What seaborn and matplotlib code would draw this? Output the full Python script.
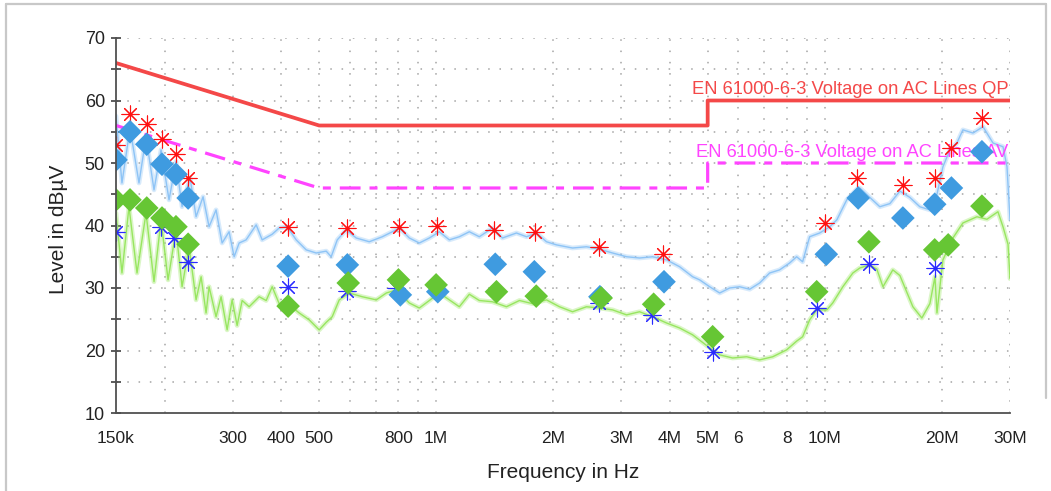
import matplotlib
matplotlib.use("Agg")
import matplotlib.pyplot as plt
import seaborn as sns
from matplotlib.lines import Line2D
from matplotlib.ticker import FixedLocator, FixedFormatter, NullLocator

# ---------------- data (frequency in MHz, level in dBµV) ----------------
qp_trace_freq = [0.150, 0.1554, 0.1630, 0.1719, 0.1792, 0.1879, 0.1959, 0.2054, 0.2141, 0.2219,
                 0.2327, 0.2411, 0.2513, 0.2604, 0.2714, 0.2813, 0.2932, 0.3021, 0.3112, 0.3243,
                 0.3443, 0.3567, 0.3785, 0.3945, 0.4137, 0.4364, 0.4631, 0.4912, 0.5213, 0.5370,
                 0.5566, 0.5870, 0.6229, 0.6729, 0.7270, 0.7715, 0.8042, 0.8533, 0.9054, 0.9607,
                 1.0193, 1.0815, 1.1475, 1.2176, 1.2919, 1.3962, 1.4815, 1.6100, 1.7085, 1.8128,
                 1.9235, 2.0409, 2.2443, 2.4384, 2.6343, 2.8455, 3.0920, 3.3398, 3.6077, 3.9201,
                 4.2348, 4.5747, 4.7685, 5.0592, 5.3679, 5.6955, 6.0431, 6.4119, 6.8031, 7.2183,
                 7.6587, 8.1261, 8.4705, 8.7773, 9.150, 9.712, 10.31, 10.75, 11.40, 12.10,
                 12.32, 13.07, 13.87, 14.72, 15.62, 16.57, 17.58, 18.66, 19.46, 20.16,
                 21.01, 21.90, 22.69, 24.09, 25.56, 27.12, 28.78, 29.47, 30.0]
qp_trace_level = [57.5, 46.8, 55.6, 46.8, 54.2, 45.7, 52.1, 44.1, 50.2, 43.0,
                  47.6, 41.4, 44.6, 39.8, 42.5, 37.2, 39.0, 35.0, 37.2, 37.7,
                  40.1, 37.7, 38.6, 39.6, 39.8, 37.7, 36.1, 35.6, 35.9, 35.0,
                  37.7, 39.3, 38.0, 37.4, 38.2, 39.0, 39.6, 38.0, 37.2, 38.0,
                  39.0, 37.7, 38.2, 39.0, 38.2, 39.6, 38.0, 38.8, 38.2, 38.8,
                  37.4, 36.9, 36.4, 36.6, 36.2, 35.6, 35.0, 34.8, 35.0, 34.5,
                  33.4, 31.8, 31.3, 30.2, 29.2, 30.0, 30.2, 29.8, 30.8, 32.4,
                  32.9, 34.0, 35.0, 34.2, 38.2, 38.8, 39.8, 40.9, 44.1, 45.8,
                  46.0, 44.5, 43.0, 43.5, 45.5, 44.5, 43.0, 42.5, 45.0, 49.4,
                  52.1, 53.2, 55.3, 54.8, 55.8, 53.2, 52.6, 49.4, 41.0]

av_trace_freq = [0.150, 0.1554, 0.1620, 0.1699, 0.1792, 0.1879, 0.1959, 0.2042, 0.2141, 0.2219,
                 0.2313, 0.2411, 0.2484, 0.2558, 0.2604, 0.2714, 0.2796, 0.2898, 0.2985, 0.3075,
                 0.3168, 0.3302, 0.3504, 0.3653, 0.3785, 0.3945, 0.4137, 0.4443, 0.4714, 0.5002,
                 0.5213, 0.5402, 0.5632, 0.5976, 0.6457, 0.7015, 0.7445, 0.7900, 0.8533, 0.9054,
                 0.9607, 1.0193, 1.0815, 1.1475, 1.2176, 1.2919, 1.3962, 1.5171, 1.6388, 1.7703,
                 1.9235, 2.0775, 2.2443, 2.4384, 2.6343, 2.8455, 3.0920, 3.3398, 3.6077, 3.9201,
                 4.2348, 4.5747, 4.970, 5.3679, 5.798, 6.30, 6.8031, 7.353, 7.983, 8.4705,
                 8.7773, 9.150, 9.545, 10.13, 10.49, 11.14, 11.82, 12.32, 13.07, 13.63,
                 14.13, 14.98, 15.62, 16.87, 17.79, 18.66, 19.23, 19.46, 20.16, 21.39,
                 22.69, 24.66, 26.17, 27.93, 28.78, 29.65, 30.0]
av_trace_level = [42.0, 32.4, 43.0, 32.4, 42.0, 31.0, 40.9, 31.3, 39.3, 30.2,
                  36.6, 28.1, 31.8, 26.0, 30.2, 25.4, 28.6, 23.3, 28.1, 24.0,
                  28.0, 27.0, 28.6, 28.0, 30.2, 27.5, 27.6, 26.0, 24.9, 23.3,
                  24.5, 25.4, 28.1, 29.2, 28.6, 28.1, 29.2, 29.7, 27.6, 26.8,
                  28.0, 29.2, 28.1, 27.0, 29.0, 28.0, 27.8, 27.0, 28.0, 27.5,
                  28.1, 27.0, 26.2, 27.0, 26.8, 26.5, 25.7, 26.2, 25.4, 24.4,
                  23.6, 22.5, 20.8, 19.3, 18.8, 19.0, 18.5, 19.0, 20.1, 21.5,
                  22.2, 24.9, 26.5, 26.5, 27.6, 30.2, 32.4, 33.2, 33.7, 33.0,
                  30.2, 32.9, 32.0, 27.0, 25.2, 27.5, 31.8, 26.0, 34.5, 38.0,
                  40.4, 41.4, 41.0, 42.2, 39.8, 37.0, 31.5]

limit_qp_freq = [0.15, 0.5, 5.0, 5.0, 30.0]
limit_qp_level = [66, 56, 56, 60, 60]
limit_av_freq = [0.15, 0.5, 5.0, 5.0, 30.0]
limit_av_level = [56, 46, 46, 50, 50]
limit_qp_name = "EN 61000-6-3 Voltage on AC Lines QP"
limit_av_name = "EN 61000-6-3 Voltage on AC Lines AV"

qp_peak_freq = [0.150, 0.163, 0.180, 0.197, 0.214, 0.230, 0.416, 0.591, 0.804, 1.007,
                1.413, 1.792, 2.62, 3.83, 10.0, 12.1, 15.9, 19.2, 21.1, 25.4]
qp_peak_level = [52.9, 57.8, 56.2, 53.8, 51.4, 47.6, 39.8, 39.6, 39.8, 39.9,
                 39.3, 39.0, 36.6, 35.4, 40.4, 47.6, 46.5, 47.6, 52.4, 57.2]

av_peak_freq = [0.150, 0.196, 0.212, 0.230, 0.416, 0.591, 0.79, 2.62, 3.60, 5.15,
                9.54, 13.0, 19.2]
av_peak_level = [39.0, 39.8, 38.0, 34.1, 30.1, 29.5, 30.0, 27.6, 25.7, 19.8,
                 26.8, 33.8, 33.2]

qp_final_freq = [0.150, 0.163, 0.180, 0.197, 0.214, 0.230, 0.416, 0.591, 0.809, 1.01,
                 1.42, 1.79, 2.64, 3.86, 10.1, 12.2, 15.9, 19.2, 21.2, 25.4]
qp_final_level = [50.5, 55.0, 53.0, 49.8, 48.2, 44.4, 33.5, 33.7, 28.9, 29.4,
                  33.8, 32.6, 28.6, 31.0, 35.4, 44.4, 41.2, 43.4, 46.0, 51.8]

av_final_freq = [0.150, 0.163, 0.180, 0.197, 0.214, 0.230, 0.416, 0.594, 0.800, 1.0,
                 1.43, 1.81, 2.66, 3.63, 5.15, 9.54, 13.0, 19.2, 20.8, 25.4]
av_final_level = [44.1, 44.1, 42.8, 41.2, 39.8, 37.0, 27.1, 30.8, 31.3, 30.5,
                  29.4, 28.7, 28.4, 27.4, 22.2, 29.4, 37.4, 36.1, 36.9, 43.1]

x_ticks = [0.15, 0.2, 0.3, 0.4, 0.5, 0.6, 0.7, 0.8, 1, 2, 3, 4, 5, 6, 7, 8, 10, 20, 30]
x_tick_labels = ["150k", "", "300", "400", "500", "", "", "800", "1M", "2M", "3M", "4M",
                 "5M", "6", "", "8", "10M", "20M", "30M"]
x_grid = [0.2, 0.3, 0.4, 0.5, 0.6, 0.7, 0.8, 0.9, 1, 2, 3, 4, 5, 6, 7, 8, 9, 10, 20, 30]
y_major = [10, 20, 30, 40, 50, 60, 70]
y_minor = [15, 25, 35, 45, 55, 65]

# ---------------- style ----------------
sns.set_theme(style="white")
plt.rcParams["font.family"] = ["Liberation Sans", "DejaVu Sans"]

W, H = 1051, 491
fig = plt.figure(figsize=(W / 100, H / 100), dpi=100)
fig.patch.set_facecolor("white")
L, R, T, B = 116, 1010, 38, 413
ax = fig.add_axes([L / W, 1 - B / H, (R - L) / W, (B - T) / H])
ax.set_facecolor("white")

# window frame (left, top, right part)
frame_kw = dict(transform=fig.transFigure, color="#c8c8c8", linewidth=1.6, zorder=0)
fig.lines.append(Line2D([6 / W, 6 / W], [0, 1 - 4 / H], **frame_kw))
fig.lines.append(Line2D([6 / W, 1046 / W], [1 - 4 / H, 1 - 4 / H], **frame_kw))
fig.lines.append(Line2D([1046 / W, 1046 / W], [1 - 4 / H, 1 - 398 / H], **frame_kw))

ax.set_xscale("log")
ax.set_xlim(0.15, 30)
ax.set_ylim(10, 70)

# grid (dotted)
grid_kw = dict(color="#b8b8b8", linewidth=1.4, linestyle=(0, (0.8, 5.0)), zorder=0)
for g in x_grid:
    ax.axvline(g, **grid_kw)
for g in y_minor + y_major[1:]:
    ax.axhline(g, **grid_kw)

# traces: faint wide underlay (receiver noise band look) + thin line
blue_trace = "#8ec4f6"
green_trace = "#98e660"
for xs, ys, col in [(qp_trace_freq, qp_trace_level, blue_trace),
                    (av_trace_freq, av_trace_level, green_trace)]:
    sns.lineplot(x=xs, y=ys, ax=ax, color=col, linewidth=3.4, alpha=0.35,
                 sort=False, estimator=None, zorder=2)
    sns.lineplot(x=xs, y=ys, ax=ax, color=col, linewidth=1.0,
                 sort=False, estimator=None, zorder=2)

# limit lines
qp_col = "#f44848"
av_col = "#ff44ff"
sns.lineplot(x=limit_qp_freq, y=limit_qp_level, ax=ax, color=qp_col, linewidth=2.7,
             sort=False, estimator=None, zorder=3)
lav = sns.lineplot(x=limit_av_freq, y=limit_av_level, ax=ax, color=av_col, linewidth=2.3,
                   sort=False, estimator=None, zorder=3)
lav.lines[-1].set_dashes((6.5, 2.8, 2.5, 2.8))

ax.text(29.7, 61.0, limit_qp_name, color=qp_col, fontsize=13.2, ha="right",
        va="baseline", zorder=4)
ax.text(29.7, 51.0, limit_av_name, color=av_col, fontsize=13.2, ha="right",
        va="baseline", zorder=4)

# markers
ast = (8, 2, 0)
sns.scatterplot(x=qp_peak_freq, y=qp_peak_level, ax=ax, marker=ast, s=150,
                color="#ff1010", linewidth=0.8, zorder=5)
sns.scatterplot(x=av_peak_freq, y=av_peak_level, ax=ax, marker=ast, s=150,
                color="#2a2aff", linewidth=0.8, zorder=5)
sns.scatterplot(x=qp_final_freq, y=qp_final_level, ax=ax, marker="D", s=145,
                color="#3f9be0", edgecolor="none", zorder=6)
sns.scatterplot(x=av_final_freq, y=av_final_level, ax=ax, marker="D", s=145,
                color="#66c634", edgecolor="none", zorder=7)

# axes styling
for side in ["top", "right"]:
    ax.spines[side].set_visible(False)
for side in ["left", "bottom"]:
    ax.spines[side].set_color("#505050")
    ax.spines[side].set_linewidth(1.3)
    ax.spines[side].set_zorder(8)

ax.xaxis.set_major_locator(FixedLocator(x_ticks))
ax.xaxis.set_major_formatter(FixedFormatter(x_tick_labels))
ax.xaxis.set_minor_locator(NullLocator())
ax.yaxis.set_major_locator(FixedLocator(y_major))
ax.yaxis.set_minor_locator(FixedLocator(y_minor))
ax.tick_params(axis="x", which="major", direction="inout", length=8, width=1.1,
               color="#303030", pad=9.0, labelsize=12.5, labelcolor="#222222")
ax.tick_params(axis="y", which="both", direction="inout", length=7, width=1.1,
               color="#303030", pad=4.5, labelsize=13, labelcolor="#222222", left=True)
ax.grid(False)

ax.set_xlabel("Frequency in Hz", fontsize=15, color="#222222")
ax.set_ylabel("Level in dBµV", fontsize=15, color="#222222")
ax.xaxis.label.set_va("center")
ax.yaxis.label.set_va("center")
ax.xaxis.set_label_coords(0.5, (B - 472) / (B - T))
ax.yaxis.set_label_coords((59 - L) / (R - L), (B - 229) / (B - T))

fig.savefig("out.png", dpi=100, facecolor="white")
